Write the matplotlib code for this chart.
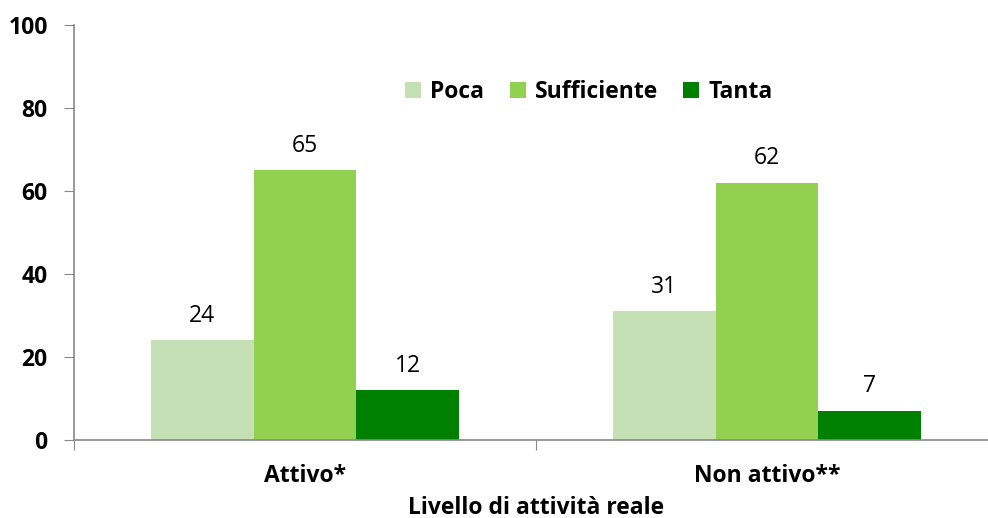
import numpy as np
import matplotlib.pyplot as plt

# Data
categories = ["Attivo*", "Non attivo**"]
series = ["Poca", "Sufficiente", "Tanta"]
poca = [24, 31]
sufficiente = [65, 62]
tanta = [12, 7]
colors = ["#c5e0b4", "#92d050", "#008000"]

plt.rcParams['font.family'] = ['Open Sans', 'DejaVu Sans']

fig = plt.figure(figsize=(9.88, 5.18), dpi=100)
ax = fig.add_axes([74 / 988, 1 - 440 / 518, (998 - 74) / 988, (440 - 25) / 518])

x = np.arange(len(categories))
w = 0.222
for i, (vals, name) in enumerate(zip([poca, sufficiente, tanta], series)):
    bars = ax.bar(x + (i - 1) * w, vals, width=w, color=colors[i], label=name)
    for b, v in zip(bars, vals):
        ax.annotate(str(v), (b.get_x() + b.get_width() / 2, v),
                    xytext=(0, 9), textcoords="offset points",
                    ha="center", va="bottom", fontsize=16.5)

ax.set_xlim(-0.5, 1.5)
ax.set_ylim(0, 100)
ax.set_yticks(range(0, 101, 20))
ax.set_xticks([-0.5, 0.5, 1.5])
ax.set_xticklabels([])
ax.set_xticks(x, minor=True)
ax.set_xticklabels(categories, minor=True, fontweight="bold", fontsize=16.5)
ax.tick_params(axis="x", which="minor", length=0, pad=17)
ax.tick_params(axis="x", which="major", length=7, color="#888888", direction="out")
ax.tick_params(axis="y", length=7, color="#888888", pad=12, labelsize=16.5)
for lbl in ax.get_yticklabels():
    lbl.set_fontweight("bold")

for s in ["top", "right"]:
    ax.spines[s].set_visible(False)
for s in ["left", "bottom"]:
    ax.spines[s].set_color("#888888")
    ax.spines[s].set_linewidth(1.2)

ax.set_xlabel("Livello di attività reale", fontweight="bold", fontsize=16.5, labelpad=6)

ax.legend(loc="center", bbox_to_anchor=((589 - 74) / 924, (440 - 92) / 415),
          ncol=3, frameon=False, prop={"weight": "bold", "size": 16.5},
          handlelength=0.7, handleheight=0.7, handletextpad=0.4, columnspacing=1.1)

fig.savefig("out.png", dpi=100)
